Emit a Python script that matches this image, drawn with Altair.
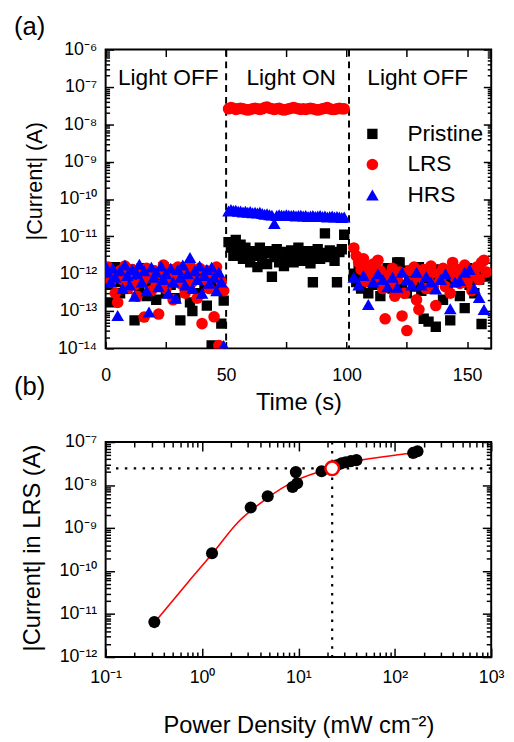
import altair as alt
import pandas as pd

FONT = "Liberation Sans"

# ---------------- Panel (a): |Current| vs time ----------------
TIME_OFF1 = [0, 1, 2, 3, 4, 5, 6, 7, 8, 9,
             10, 11, 12, 13, 14, 15, 16, 17, 18, 19,
             20, 21, 22, 23, 24, 25, 26, 27, 28, 29,
             30, 31, 32, 33, 34, 35, 36, 37, 38, 39,
             40, 41, 42, 43, 44, 45, 46, 47, 48, 49]
TIME_ON = [51, 52, 53, 54, 55, 56, 57, 58, 59, 60,
           61, 62, 63, 64, 65, 66, 67, 68, 69, 70,
           71, 72, 73, 74, 75, 76, 77, 78, 79, 80,
           81, 82, 83, 84, 85, 86, 87, 88, 89, 90,
           91, 92, 93, 94, 95, 96, 97, 98, 99]
TIME_OFF2 = [103, 104, 105, 106, 107, 108, 109, 110, 111, 112,
             113, 114, 115, 116, 117, 118, 119, 120, 121, 122,
             123, 124, 125, 126, 127, 128, 129, 130, 131, 132,
             133, 134, 135, 136, 137, 138, 139, 140, 141, 142,
             143, 144, 145, 146, 147, 148, 149, 150, 151, 152,
             153, 154, 155, 156, 157, 158]
TIME_OFF2_HRS = [103, 105, 107, 109, 111, 113, 115, 117, 119, 121,
                 123, 125, 127, 129, 131, 133, 135, 137, 139, 141,
                 143, 145, 147, 149, 151, 153, 155, 157]

PRISTINE_OFF1 = [1.2e-12, 5e-13, 1.7e-13, 9e-13, 1.5e-12, 6e-13, 3e-13, 1.1e-12, 8e-13, 4e-13,
                 1.3e-12, 7e-13, 5.6e-14, 1e-12, 3.5e-13, 1.4e-12, 6e-13, 2.5e-13, 9e-13, 1.2e-12,
                 4.5e-13, 2e-13, 1e-12, 7e-13, 1.5e-12, 3e-13, 8e-13, 5e-13, 1.1e-12, 2.2e-13,
                 6.5e-13, 5.6e-14, 1.3e-12, 4e-13, 9e-13, 1.7e-13, 1e-13, 7e-13, 1.2e-12, 3e-13,
                 8e-13, 5e-13, 1.4e-13, 1e-12, 1.2e-14, 6e-13, 9e-13, 4e-13, 4.6e-14, 1.9e-13]
PRISTINE_ON = [7e-12, 5e-12, 3e-12, 8e-12, 4e-12, 6e-12, 2.5e-12, 5e-12, 3.5e-12, 2e-12,
               4e-12, 3e-12, 1.5e-12, 5e-12, 2.5e-12, 3.5e-12, 1.8e-12, 4e-12, 8.3e-13, 2.8e-12,
               4.5e-12, 2e-12, 3e-12, 1.6e-12, 3.8e-12, 2.4e-12, 4.2e-12, 2e-12, 3e-12, 5e-12,
               2.2e-12, 3.5e-12, 2.6e-12, 4e-12, 1.9e-12, 5.9e-13, 3.2e-12, 4.5e-12, 2.5e-12, 3.6e-12,
               1.2e-11, 2.8e-12, 4.2e-12, 3e-12, 2.2e-12, 5.9e-13, 3.8e-12, 4.5e-12, 1.1e-11]
PRISTINE_OFF2 = [1e-12, 6e-13, 1.3e-12, 4e-13, 8e-13, 1.1e-12, 3e-13, 9e-13, 5e-13, 1.2e-12,
                 7e-13, 2.5e-13, 1e-12, 6e-13, 1.4e-12, 7e-13, 4e-13, 1e-12, 2e-12, 2e-12,
                 5e-13, 1.2e-12, 3e-13, 8e-13, 1.1e-12, 4.5e-13, 9e-13, 1.5e-12, 3.5e-13, 6.2e-14,
                 7e-13, 5.2e-14, 1.1e-12, 4e-13, 3.8e-14, 8e-13, 1.3e-12, 2e-13, 9e-13, 5e-13,
                 5.6e-14, 1.2e-12, 6e-13, 1e-12, 2.5e-13, 8e-13, 1.2e-13, 1.4e-12, 5e-13, 1e-12,
                 3e-13, 1.3e-12, 7e-13, 4.5e-14, 1.1e-12, 8.4e-13]

LRS_OFF1 = [8e-13, 1.5e-12, 6e-13, 1e-12, 3e-13, 1.7e-13, 1.2e-12, 7e-13, 1.6e-12, 4e-13,
            9e-13, 1.3e-12, 5e-13, 2.5e-13, 1.1e-12, 6e-13, 6.9e-14, 1.4e-12, 8e-13, 3.5e-13,
            1.2e-12, 5e-13, 8.3e-14, 1e-12, 1.7e-12, 4e-13, 7e-13, 1.3e-12, 2e-13, 9e-13,
            1.5e-12, 5.5e-13, 1.1e-12, 3e-13, 8e-13, 1.6e-12, 6e-13, 1e-12, 2.2e-13, 1.4e-12,
            4.6e-14, 7e-13, 1.2e-12, 4e-13, 9e-13, 7e-14, 1.5e-12, 1.2e-14, 6e-13, 3.5e-13]
LRS_ON = [2.6e-8, 2.8e-8, 2.7e-8, 2.5e-8, 2.6e-8, 2.7e-8, 2.6e-8, 2.5e-8, 2.4e-8, 2.5e-8,
          2.6e-8, 2.7e-8, 2.6e-8, 2.5e-8, 2.6e-8, 2.8e-8, 2.9e-8, 2.7e-8, 2.6e-8, 2.5e-8,
          2.6e-8, 2.7e-8, 2.5e-8, 2.4e-8, 2.5e-8, 2.6e-8, 2.7e-8, 2.8e-8, 2.7e-8, 2.6e-8,
          2.5e-8, 2.6e-8, 2.5e-8, 2.6e-8, 2.7e-8, 2.6e-8, 2.5e-8, 2.4e-8, 2.5e-8, 2.6e-8,
          2.7e-8, 2.8e-8, 2.6e-8, 2.5e-8, 2.5e-8, 2.6e-8, 2.7e-8, 2.6e-8, 2.6e-8]
LRS_OFF2 = [4.9e-12, 3e-12, 2e-12, 1.3e-12, 2.5e-12, 6.2e-13, 1.5e-12, 1e-12, 1.8e-12, 8e-13,
            2.3e-12, 1.2e-12, 4e-13, 6.2e-14, 9e-13, 5e-13, 1.4e-12, 2.5e-13, 7e-13, 1.1e-12,
            7.4e-14, 3e-13, 3e-14, 1.2e-12, 6e-13, 1.5e-12, 2e-13, 1.1e-13, 8e-13, 1.3e-12,
            4e-13, 9e-13, 1.6e-12, 5e-13, 1.4e-13, 1e-12, 7e-13, 1.4e-12, 4.5e-13, 1.1e-12,
            3e-13, 2e-12, 8e-13, 1.3e-12, 5.5e-13, 1e-12, 1.7e-12, 6e-13, 1.2e-12, 3.5e-13,
            9e-13, 1.5e-12, 7e-13, 2e-12, 2.3e-12, 1.1e-12]

HRS_OFF1 = [1.6e-12, 1.1e-12, 6e-13, 1.4e-12, 8e-13, 7.6e-14, 1.2e-12, 4e-13, 1.7e-12, 9e-13,
            5e-13, 1.3e-12, 2.5e-13, 1e-12, 1.8e-12, 6e-13, 1.2e-12, 3.5e-13, 9.4e-14, 1.5e-12,
            8e-13, 1.1e-12, 4.5e-13, 1.6e-12, 7e-13, 1e-12, 3e-13, 1.4e-12, 6e-13, 2.2e-13,
            1.3e-12, 8e-13, 1.7e-12, 5e-13, 1e-12, 2.7e-12, 4e-13, 1.2e-12, 7e-13, 1.6e-12,
            3e-13, 9e-13, 1.3e-12, 5.5e-13, 1.5e-12, 8e-13, 3.5e-13, 1.1e-12, 6e-13, 1.2e-14]
HRS_ON = [4.8e-11, 5.2e-11, 4.9e-11, 5e-11, 4.7e-11, 4.8e-11, 4.5e-11, 4.7e-11, 4.4e-11, 4.6e-11,
          4.3e-11, 4.4e-11, 4.2e-11, 4.4e-11, 4.1e-11, 3.9e-11, 4e-11, 3.8e-11, 3.7e-11, 2.2e-11,
          3.6e-11, 3.8e-11, 3.7e-11, 3.6e-11, 3.8e-11, 3.7e-11, 3.6e-11, 3.7e-11, 3.5e-11, 3.6e-11,
          3.7e-11, 3.5e-11, 3.6e-11, 3.4e-11, 3.5e-11, 3.6e-11, 3.4e-11, 3.5e-11, 3.6e-11, 3.4e-11,
          3.5e-11, 3.3e-11, 3.4e-11, 3.5e-11, 3.3e-11, 3.4e-11, 3.3e-11, 3.2e-11, 3.3e-11]
HRS_OFF2 = [8e-13, 5e-13, 9e-13, 1.5e-13, 6e-13, 1e-12, 7e-13, 4.5e-13, 8e-13, 4.3e-13,
            1.1e-12, 7e-13, 5e-13, 1.1e-12, 5e-13, 8.4e-13, 6e-13, 3.9e-13, 7e-13, 1e-12,
            1.15e-13, 6e-13, 6.6e-13, 1.1e-12, 1.3e-12, 4e-13, 2.3e-13, 1.1e-13]

SERIES = ["Pristine", "LRS", "HRS"]
SERIES_COLORS = ["#000000", "#ff0000", "#0000ff"]
SERIES_SHAPES = ["square", "circle", "triangle-up"]
SERIES_SIZES = [110, 165, 200]

LIGHT_SWITCH_T = [50, 101]
REGION_TEXT = ["Light OFF", "Light ON", "Light OFF"]
REGION_T = [26, 77, 129.5]
REGION_V = [1.1e-7, 1.1e-7, 1.1e-7]

A_T_DOMAIN = [0, 160]
A_V_DOMAIN = [1e-14, 1e-6]
A_T_TICKS = [0, 25, 50, 75, 100, 125, 150]
A_DECADES = [-14, -13, -12, -11, -10, -9, -8, -7, -6]

# ---------------- Panel (b): |Current| in LRS vs power density ----------------
PD_X = [0.32, 1.27, 3.2, 4.8, 8.7, 9.7, 9.4, 17.4, 22.4, 25, 28, 31, 35, 40, 155, 172]
PD_Y = [6.5e-12, 2.6e-10, 3.0e-9, 5.5e-9, 9.0e-9, 1.1e-8, 2.0e-8, 2.1e-8, 2.45e-8,
        2.9e-8, 3.2e-8, 3.4e-8, 3.6e-8, 3.8e-8, 5.6e-8, 6.1e-8]
FIT_X = [0.33, 0.72, 1.27, 2.35, 4.77, 8.9, 16.7, 22.4, 36.7, 80, 165]
FIT_Y = [6.8e-12, 5.6e-11, 2.5e-10, 1.35e-9, 5.0e-9, 1.2e-8, 2.05e-8, 2.5e-8, 3.5e-8, 4.6e-8, 5.7e-8]
HL_X = [22.4]
HL_Y = [2.45e-8]

B_X_DOMAIN = [0.1, 1000]
B_Y_DOMAIN = [1e-12, 1e-7]
B_X_DECADES = [-1, 0, 1, 2, 3]
B_Y_DECADES = [-12, -11, -10, -9, -8, -7]

# ---------------- helpers ----------------
SUP = str.maketrans("-0123456789", "⁻⁰¹²³⁴⁵⁶⁷⁸⁹")
LOG = "log(datum.value)/LN10"
IS_DECADE = f"abs({LOG} - round({LOG})) < 0.01"


def pow_text(e):
    return "10" + str(e).translate(SUP)


def log_ticks(decades):
    vals = []
    for d in decades[:-1]:
        for k in range(1, 10):
            vals.append(k * 10.0 ** d)
    vals.append(10.0 ** decades[-1])
    return vals


def log_label_expr(decades):
    expr = "''"
    for d in reversed(decades):
        expr = f"round({LOG}) == {d} ? '{pow_text(d)}' : ({expr})"
    return f"{IS_DECADE} ? ({expr}) : ''"


AXIS_COMMON = dict(
    grid=False, domain=False, tickColor="black", tickWidth=1.5,
    labelFont=FONT, labelFontSize=18, labelColor="black",
    labelFlush=False, labelOverlap=False, labelBound=False,
    titleFont=FONT, titleFontWeight="normal", titleColor="black",
)


def log_axis(orient, decades, major, minor, pad, **kw):
    opts = dict(AXIS_COMMON)
    opts.update(kw)
    return alt.Axis(
        orient=orient,
        values=log_ticks(decades),
        tickSize={"expr": f"{IS_DECADE} ? {-major} : {-minor}"},
        labelExpr=log_label_expr(decades),
        labelPadding=major + pad,
        **opts,
    )


def log_mirror(orient, decades, major, minor):
    return alt.Axis(
        orient=orient, values=log_ticks(decades),
        tickSize={"expr": f"{IS_DECADE} ? {-major} : {-minor}"},
        labels=False, title=None, grid=False, domain=False,
        tickColor="black", tickWidth=1.5,
    )


def lin_axis(orient, values, size, pad, **kw):
    opts = dict(AXIS_COMMON)
    opts.update(kw)
    return alt.Axis(
        orient=orient,
        values=values,
        tickSize={"expr": f"{-size}"},
        labelExpr="datum.value % 50 == 0 ? datum.label : ''",
        labelPadding=size + pad,
        **opts,
    )


def lin_mirror(orient, values, size):
    return alt.Axis(
        orient=orient, values=values, tickSize={"expr": f"{-size}"},
        labels=False, title=None, grid=False, domain=False,
        tickColor="black", tickWidth=1.5,
    )


# ---------------- build panel (a) ----------------
frames = []
for name, segs in [
    ("Pristine", [(TIME_OFF1, PRISTINE_OFF1), (TIME_ON, PRISTINE_ON), (TIME_OFF2, PRISTINE_OFF2)]),
    ("LRS", [(TIME_OFF1, LRS_OFF1), (TIME_ON, LRS_ON), (TIME_OFF2, LRS_OFF2)]),
    ("HRS", [(TIME_OFF1, HRS_OFF1), (TIME_ON, HRS_ON), (TIME_OFF2_HRS, HRS_OFF2)]),
]:
    for ts, vs in segs:
        frames.append(pd.DataFrame({"t": ts, "v": vs, "series": name}))
df_a = pd.concat(frames, ignore_index=True)

xs_a = alt.Scale(domain=A_T_DOMAIN, nice=False, zero=False)
ys_a = alt.Scale(type="log", domain=A_V_DOMAIN, nice=False)

legend = alt.Legend(
    title=None, orient="none", legendX=259, legendY=74, padding=0,
    labelFont=FONT, labelFontSize=23, labelColor="black", labelOffset=24,
    symbolSize=160, rowPadding=7, symbolStrokeWidth=0, labelLimit=200,
)

rules_a = alt.Chart(pd.DataFrame({"t": LIGHT_SWITCH_T})).mark_rule(
    color="black", strokeWidth=2, strokeDash=[7, 5]
).encode(x=alt.X("t:Q", scale=xs_a, axis=None))

points_a = alt.Chart(df_a).mark_point(filled=True, opacity=1, clip=True).encode(
    x=alt.X("t:Q", scale=xs_a,
            axis=lin_axis("bottom", A_T_TICKS, 7, 19, title="Time (s)",
                          titleFontSize=24, titleY=43)),
    y=alt.Y("v:Q", scale=ys_a,
            axis=log_axis("left", A_DECADES, 8, 4, 9, title="|Current| (A)",
                          titleFontSize=22, titleX=-60, titleY=133)),
    color=alt.Color("series:N", scale=alt.Scale(domain=SERIES, range=SERIES_COLORS), legend=legend),
    shape=alt.Shape("series:N", scale=alt.Scale(domain=SERIES, range=SERIES_SHAPES), legend=legend),
    size=alt.Size("series:N", scale=alt.Scale(domain=SERIES, range=SERIES_SIZES), legend=None),
    order=alt.Order("rank:Q"),
).transform_calculate(
    rank="datum.series == 'Pristine' ? 0 : (datum.series == 'LRS' ? 1 : 2)"
)

text_a = alt.Chart(pd.DataFrame({"t": REGION_T, "v": REGION_V, "label": REGION_TEXT})).mark_text(
    font=FONT, fontSize=23, color="black", align="center", baseline="alphabetic"
).encode(
    x=alt.X("t:Q", scale=xs_a, axis=None),
    y=alt.Y("v:Q", scale=ys_a, axis=None),
    text="label:N",
)

mirror_a = alt.Chart(pd.DataFrame({"t": A_T_DOMAIN, "v": A_V_DOMAIN})).mark_point(opacity=0).encode(
    x=alt.X("t:Q", scale=xs_a, axis=lin_mirror("top", A_T_TICKS, 7)),
    y=alt.Y("v:Q", scale=ys_a, axis=log_mirror("right", A_DECADES, 8, 4)),
)

chart_a = alt.layer(rules_a, points_a, text_a, mirror_a).resolve_axis(
    x="independent", y="independent"
).properties(
    width=391, height=303,
    title=alt.TitleParams("(a)", anchor="start", frame="group", dx=-93, offset=1,
                          fontSize=26, fontWeight="normal", font=FONT, color="black"),
)

# ---------------- build panel (b) ----------------
xs_b = alt.Scale(type="log", domain=B_X_DOMAIN, nice=False)
ys_b = alt.Scale(type="log", domain=B_Y_DOMAIN, nice=False)

hline_b = alt.Chart(pd.DataFrame({"y": HL_Y})).mark_rule(
    color="black", strokeWidth=2.2, strokeDash=[2.5, 6.5]
).encode(y=alt.Y("y:Q", scale=ys_b, axis=None))
vline_b = alt.Chart(pd.DataFrame({"x": HL_X})).mark_rule(
    color="black", strokeWidth=2.2, strokeDash=[2.5, 6.5]
).encode(x=alt.X("x:Q", scale=xs_b, axis=None))

fit_b = alt.Chart(pd.DataFrame({"x": FIT_X, "y": FIT_Y})).mark_line(
    color="#ff0000", strokeWidth=1.6, interpolate="monotone"
).encode(
    x=alt.X("x:Q", scale=xs_b,
            axis=log_axis("bottom", B_X_DECADES, 9, 5, 12, title="Power Density (mW cm⁻²)",
                          titleFontSize=24, titleY=58)),
    y=alt.Y("y:Q", scale=ys_b,
            axis=log_axis("left", B_Y_DECADES, 9, 5, 9, title="|Current| in LRS (A)",
                          titleFontSize=24, titleX=-62, titleY=107)),
)

pts_b = alt.Chart(pd.DataFrame({"x": PD_X, "y": PD_Y})).mark_circle(
    color="black", size=150, opacity=1
).encode(
    x=alt.X("x:Q", scale=xs_b, axis=None),
    y=alt.Y("y:Q", scale=ys_b, axis=None),
)

hl_b = alt.Chart(pd.DataFrame({"x": HL_X, "y": HL_Y})).mark_point(
    shape="circle", size=190, fill="white", stroke="#ff0000", strokeWidth=2.5,
    fillOpacity=1, strokeOpacity=1
).encode(
    x=alt.X("x:Q", scale=xs_b, axis=None),
    y=alt.Y("y:Q", scale=ys_b, axis=None),
)

mirror_b = alt.Chart(pd.DataFrame({"x": B_X_DOMAIN, "y": B_Y_DOMAIN})).mark_point(opacity=0).encode(
    x=alt.X("x:Q", scale=xs_b, axis=log_mirror("top", B_X_DECADES, 9, 5)),
    y=alt.Y("y:Q", scale=ys_b, axis=log_mirror("right", B_Y_DECADES, 9, 5)),
)

chart_b = alt.layer(hline_b, vline_b, fit_b, pts_b, hl_b, mirror_b).resolve_axis(
    x="independent", y="independent"
).properties(
    width=391, height=218,
    title=alt.TitleParams("(b)", anchor="start", frame="group", dx=-93, offset=34,
                          fontSize=26, fontWeight="normal", font=FONT, color="black"),
)

chart = alt.vconcat(chart_a, chart_b, spacing=95, bounds="flush").properties(
    padding={"left": 5, "top": 0, "right": 0, "bottom": 0}
).configure(font=FONT).configure_view(stroke="black", strokeWidth=2)

chart.save("out.html", embed_options={"renderer": "svg", "actions": False})
